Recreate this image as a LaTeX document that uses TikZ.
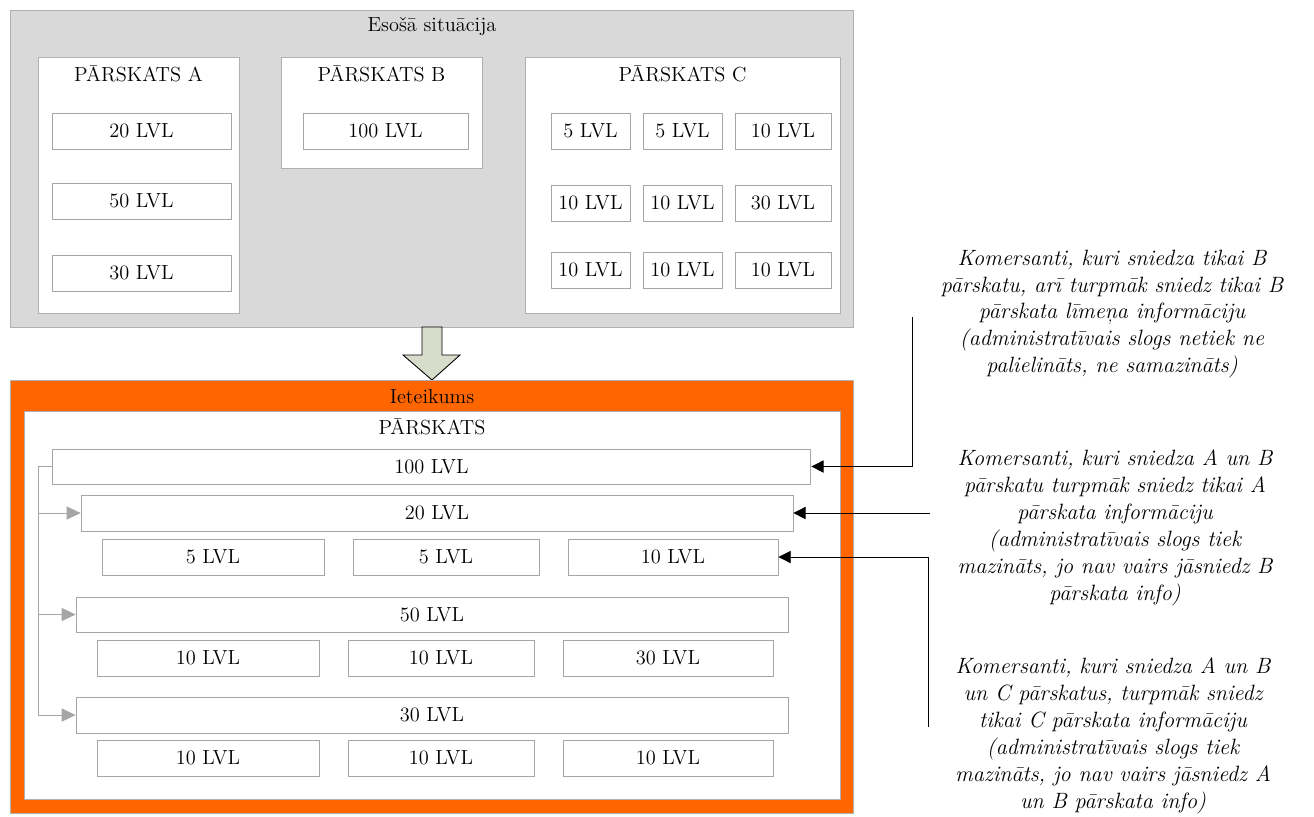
\documentclass[tikz,border=0pt]{standalone}
\usepackage{fontspec}
\usepackage{tikz}
\usetikzlibrary{positioning, arrows.meta}

\definecolor{framegray}{HTML}{D9D9D9}
\definecolor{linegray}{HTML}{A6A6A6}
\definecolor{borderclr}{HTML}{B0B0B0}
\definecolor{propose}{HTML}{FF6600}
\definecolor{downfill}{HTML}{D8DCCB}

\begin{document}
\begin{tikzpicture}[
    x=0.02cm, y=-0.02cm,
    every node/.style={font=\fontsize{11.6}{13}\selectfont},
    frame/.style={rectangle, draw=borderclr, line width=0.5pt, inner sep=0pt},
    cell/.style={rectangle, draw=linegray, fill=white, line width=0.5pt, inner sep=0pt, minimum height=0.72cm},
    note/.style={align=center, font=\fontsize{12.6}{15.3}\selectfont\itshape, inner sep=0pt},
    arr/.style={-{Triangle[length=7pt, width=7pt]}, black, line width=0.5pt},
    garr/.style={-{Triangle[length=8pt, width=7.5pt]}, linegray, line width=0.5pt},
    tree/.style={linegray, line width=0.5pt},
]
\useasboundingbox (0,0) rectangle (1314,816);

% === Esoša situacija ===
\node[frame, fill=framegray, minimum width=16.88cm, minimum height=6.34cm] (now) at (432,168.5) {};
\node (nowT) at (432,27) {Esošā situācija};

% --- A ---
\node[frame, fill=white, minimum width=4.02cm, minimum height=5.12cm] (repA) at (138.5,185) {};
\node (repAT) at (138.5,74) {PĀRSKATS A};
\node[cell, minimum width=3.58cm] (a20) at (141.5,131) {20 LVL};
\node[cell, minimum width=3.58cm] (a50) at (141.5,201) {50 LVL};
\node[cell, minimum width=3.58cm] (a30) at (141.5,273) {30 LVL};

% --- B ---
\node[frame, fill=white, minimum width=4.02cm, minimum height=2.22cm] (repB) at (381.5,112.5) {};
\node (repBT) at (381.5,74) {PĀRSKATS B};
\node[cell, minimum width=3.30cm] (b100) at (385.5,131) {100 LVL};

% --- C ---
\node[frame, fill=white, minimum width=6.30cm, minimum height=5.12cm] (repC) at (682.5,185) {};
\node (repCT) at (682.5,74) {PĀRSKATS C};
\node[cell, minimum width=1.58cm] (c11) at (590.5,131) {5 LVL};
\node[cell, minimum width=1.58cm] (c12) at (682.5,131) {5 LVL};
\node[cell, minimum width=1.92cm] (c13) at (783,131) {10 LVL};
\node[cell, minimum width=1.58cm] (c21) at (590.5,203) {10 LVL};
\node[cell, minimum width=1.58cm] (c22) at (682.5,203) {10 LVL};
\node[cell, minimum width=1.92cm] (c23) at (783,203) {30 LVL};
\node[cell, minimum width=1.58cm] (c31) at (590.5,270) {10 LVL};
\node[cell, minimum width=1.58cm] (c32) at (682.5,270) {10 LVL};
\node[cell, minimum width=1.92cm] (c33) at (783,270) {10 LVL};

% === Down arrow ===
\draw[black, fill=downfill, line width=0.5pt] (422,327) -- (442,327) -- (442,355) -- (460,355)
    -- (432,380) -- (403,355) -- (422,355) -- cycle;

% === Ieteikums ===
\node[frame, fill=propose, minimum width=16.88cm, minimum height=8.66cm] (prop) at (432,596.5) {};
\node (propT) at (432,397) {Ieteikums};
\node[frame, fill=white, minimum width=16.34cm, minimum height=7.76cm] (rep) at (432.5,605) {};
\node (repT) at (432,427) {PĀRSKATS};

\node[cell, minimum width=15.18cm, minimum height=0.70cm] (r100) at (431.5,466.5) {100 LVL};
\node[cell, minimum width=14.24cm] (r20) at (437,513) {20 LVL};
\node[cell, minimum width=4.44cm] (s1) at (213,557) {5 LVL};
\node[cell, minimum width=3.72cm] (s2) at (446,557) {5 LVL};
\node[cell, minimum width=4.20cm] (s3) at (673,557) {10 LVL};
\node[cell, minimum width=14.24cm, minimum height=0.70cm] (r50) at (432,614.5) {50 LVL};
\node[cell, minimum width=4.44cm] (f1) at (208,658) {10 LVL};
\node[cell, minimum width=3.72cm] (f2) at (441,658) {10 LVL};
\node[cell, minimum width=4.20cm] (f3) at (668,658) {30 LVL};
\node[cell, minimum width=14.24cm] (r30) at (432,715) {30 LVL};
\node[cell, minimum width=4.44cm] (t1) at (208,758) {10 LVL};
\node[cell, minimum width=3.72cm] (t2) at (441,758) {10 LVL};
\node[cell, minimum width=4.20cm] (t3) at (668,758) {10 LVL};

% === Tree connector ===
\coordinate (tr) at (38,466.5);
\draw[tree] (r100.west) -- (tr) -- (tr |- r30.west);
\draw[garr] (tr |- r20.west) -- (r20.west);
\draw[garr] (tr |- r50.west) -- (r50.west);
\draw[garr] (tr |- r30.west) -- (r30.west);

% === Notes ===
\node[note] (n1) at (1112,314) {Komersanti, kuri sniedza tikai B\\pārskatu, arī turpmāk sniedz tikai B\\pārskata līmeņa informāciju\\(administratīvais slogs netiek ne\\palielināts, ne samazināts)};
\node[note] (n2) at (1115,528) {Komersanti, kuri sniedza A un B\\pārskatu turpmāk sniedz tikai A\\pārskata informāciju\\(administratīvais slogs tiek\\mazināts, jo nav vairs jāsniedz B\\pārskata info)};
\node[note] (n3) at (1113,736) {Komersanti, kuri sniedza A un B\\un C pārskatus, turpmāk sniedz\\tikai C pārskata informāciju\\(administratīvais slogs tiek\\mazināts, jo nav vairs jāsniedz A\\un B pārskata info)};

\coordinate (k1) at (912,317);
\coordinate (k2) at (930,513);
\coordinate (k3) at (928,727);
\draw[arr] (k1) |- (r100.east);
\draw[arr] (k2) -- (r20.east);
\draw[arr] (k3) |- (s3.east);

\end{tikzpicture}
\end{document}
